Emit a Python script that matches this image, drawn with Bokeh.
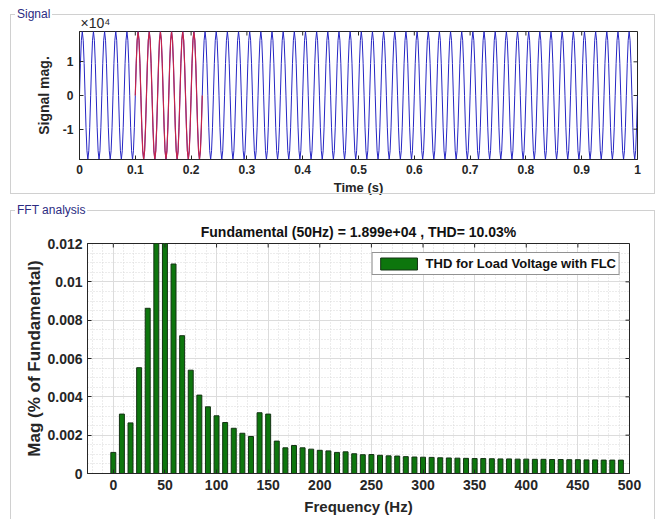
from bokeh.plotting import figure
from bokeh.models import (Range1d, FixedTicker, SingleIntervalTicker, CustomJSTickFormatter,
                          Title, Div)
from bokeh.layouts import column
from bokeh.embed import file_html
from bokeh.resources import INLINE
import numpy as np

# ---------------- data ----------------
# one period of the measured signal (x 1e4), read from the picture (peak ~1.9e4)
signal_cycle = [0.0, 0.95, 1.64, 1.90, 1.64, 0.95, 0.0, -0.95, -1.64, -1.90, -1.64, -0.95]
signal_scale = 1e4
signal_period_s = 0.02
signal_duration_s = 1.0
fft_window = [0.10, 0.22]  # highlighted (red) window in seconds

time_ticks = [0, 0.1, 0.2, 0.3, 0.4, 0.5, 0.6, 0.7, 0.8, 0.9, 1.0]
signal_ticks = [-1e4, 0, 1e4]
freq_ticks = [0, 50, 100, 150, 200, 250, 300, 350, 400, 450, 500]
mag_ticks = [0, 0.002, 0.004, 0.006, 0.008, 0.01, 0.012]

# FFT bins (Hz), spacing 1/0.12 s
bin_step_hz = 50 / 6
fft_mag = [0.00110, 0.00310, 0.00264, 0.00552, 0.00862, 0.01350, 0.01320, 0.01093,
           0.00719, 0.00539, 0.00409, 0.00348, 0.00301, 0.00266, 0.00236, 0.00210,
           0.00193, 0.00317, 0.00310, 0.00169, 0.00134, 0.00146, 0.00134, 0.00127,
           0.00121, 0.00118, 0.00110, 0.00113, 0.00103, 0.00098, 0.00099, 0.00095,
           0.00092, 0.00091, 0.00088, 0.00086, 0.00085, 0.00084, 0.00082, 0.00081,
           0.00080, 0.00079, 0.00078, 0.00078, 0.00077, 0.00076, 0.00076, 0.00075,
           0.00075, 0.00074, 0.00074, 0.00073, 0.00073, 0.00072, 0.00072, 0.00071,
           0.00071, 0.00070, 0.00070, 0.00070]
fft_freq = [i * bin_step_hz for i in range(len(fft_mag))]

fft_title = "Fundamental (50Hz) = 1.899e+04 , THD= 10.03%"
legend_text = "THD for Load Voltage with FLC"
panel_names = ["Signal", "FFT analysis"]

# ---------------- build signal from the periodic samples ----------------
n_per = len(signal_cycle)
n_cycles = int(round(signal_duration_s / signal_period_s))
sig_y = np.array(signal_cycle * n_cycles + [signal_cycle[0]]) * signal_scale
sig_t = np.arange(len(sig_y)) * (signal_period_s / n_per)
mask = (sig_t >= fft_window[0] - 1e-9) & (sig_t <= fft_window[1] + 1e-9)

FONT = "Liberation Sans"
AX = "#262626"
PANEL = "#d0d0d0"
fmt = CustomJSTickFormatter(code="return Number(tick.toPrecision(6)).toString();")


def style_axis(ax, size, lsize):
    ax.axis_line_color = AX
    ax.major_tick_line_color = AX
    ax.major_tick_in = 4
    ax.major_tick_out = 0
    ax.minor_tick_in = 0
    ax.minor_tick_out = 0
    ax.major_label_text_font = FONT
    ax.major_label_text_font_style = "bold"
    ax.major_label_text_font_size = size
    ax.major_label_text_color = AX
    ax.axis_label_text_font = FONT
    ax.axis_label_text_font_style = "bold"
    ax.axis_label_text_font_size = lsize
    ax.axis_label_text_color = AX


def panel_div(name, left, top, width, height):
    html = (
        '<fieldset style="margin:0;padding:0;border:1px solid %s;box-sizing:border-box;'
        'width:%dpx;height:%dpx;">'
        '<legend style="margin-left:4px;padding:0 2px;font-family:\'Liberation Sans\',sans-serif;'
        'font-size:12px;line-height:14px;color:#2b2b82;">%s</legend></fieldset>'
        % (PANEL, width, height, name)
    )
    return Div(text=html, width=width, height=height,
               styles={"position": "absolute", "left": "%dpx" % left, "top": "%dpx" % top,
                       "z-index": "10", "pointer-events": "none", "margin": "0"})


# ---------------- top figure: signal ----------------
p1 = figure(width=665, height=200, output_backend="svg", toolbar_location=None,
            x_range=Range1d(0, 1), y_range=Range1d(-1.9e4, 1.9e4),
            min_border_left=79, min_border_right=28, min_border_top=31,
            min_border_bottom=41)
p1.background_fill_color = "white"
p1.border_fill_color = "white"
p1.outline_line_color = AX
p1.grid.visible = False
p1.line(sig_t, sig_y, line_color="#2626c4", line_width=1)
p1.line(sig_t[mask], sig_y[mask], line_color="#c4244c", line_width=1.2)
# inward ticks on the top and right edges (box on)
p1.ray(x=time_ticks, y=[1.9e4] * len(time_ticks), length=4, length_units="screen",
       angle=-np.pi / 2, line_color=AX, line_width=1)
p1.ray(x=[1.0] * len(signal_ticks), y=signal_ticks, length=4, length_units="screen",
       angle=np.pi, line_color=AX, line_width=1)

p1.xaxis.ticker = FixedTicker(ticks=time_ticks)
p1.xaxis.formatter = fmt
p1.yaxis.ticker = FixedTicker(ticks=signal_ticks)
p1.yaxis.major_label_overrides = {-10000: "-1", 0: "0", 10000: "1"}
p1.xaxis.axis_label = "Time (s)"
p1.yaxis.axis_label = "Signal mag."
style_axis(p1.xaxis[0], "12px", "13px")
style_axis(p1.yaxis[0], "12px", "14px")
p1.xaxis.major_label_standoff = 5
p1.xaxis.axis_label_standoff = 3
p1.yaxis.major_label_standoff = 6
p1.yaxis.axis_label_standoff = 8
p1.add_layout(Title(text="\u00d710\u2074", align="left", offset=1, standoff=2,
                    text_font=FONT, text_font_size="14px", text_font_style="normal",
                    text_color=AX), "above")

# ---------------- bottom figure: FFT ----------------
p2 = figure(width=665, height=319, output_backend="svg", toolbar_location=None,
            x_range=Range1d(-25, 500), y_range=Range1d(0, 0.012),
            min_border_left=87, min_border_right=36, min_border_top=43,
            min_border_bottom=46)
p2.background_fill_color = "white"
p2.border_fill_color = "white"
p2.outline_line_color = AX
p2.vbar(x=fft_freq, top=fft_mag, width=4.8, bottom=0, fill_color="#0d760d",
        line_color="#143314", line_width=1, legend_label=legend_text)
p2.ray(x=freq_ticks, y=[0.012] * len(freq_ticks), length=4, length_units="screen",
       angle=-np.pi / 2, line_color=AX, line_width=1)
p2.ray(x=[500] * len(mag_ticks), y=mag_ticks, length=4, length_units="screen",
       angle=np.pi, line_color=AX, line_width=1)

xt = SingleIntervalTicker(interval=50, num_minor_ticks=5)
yt = SingleIntervalTicker(interval=0.002, num_minor_ticks=4)
p2.xaxis.ticker = xt
p2.yaxis.ticker = yt
p2.xaxis.formatter = fmt
p2.yaxis.formatter = fmt
p2.xaxis.axis_label = "Frequency (Hz)"
p2.yaxis.axis_label = "Mag (% of Fundamental)"
style_axis(p2.xaxis[0], "14px", "15px")
style_axis(p2.yaxis[0], "14px", "17px")
p2.xaxis.major_label_standoff = 6
p2.xaxis.axis_label_standoff = 5
p2.yaxis.major_label_standoff = 5
p2.yaxis.axis_label_standoff = 0
p2.xgrid.ticker = xt
p2.ygrid.ticker = yt
p2.grid.grid_line_color = "#dcdcdc"
p2.grid.grid_line_width = 1
p2.grid.minor_grid_line_color = "#d8d8d8"
p2.grid.minor_grid_line_dash = "1 2"
p2.add_layout(Title(text=fft_title, align="center", standoff=8, text_font=FONT,
                    text_font_size="14px", text_font_style="bold",
                    text_color="#111111"), "above")

lg = p2.legend[0]
lg.location = "top_right"
lg.margin = 9
lg.padding = 3
lg.spacing = 0
lg.glyph_width = 46
lg.glyph_height = 15
lg.label_standoff = 4
lg.label_text_font = FONT
lg.label_text_font_style = "bold"
lg.label_text_font_size = "13px"
lg.label_text_color = "#111111"
lg.border_line_color = AX
lg.border_line_width = 1
lg.background_fill_color = "white"
lg.background_fill_alpha = 1

for p in (p1, p2):
    if "frame_align" in p.properties():
        p.frame_align = False

d1 = panel_div(panel_names[0], 10, 7, 645, 187)
d2 = panel_div(panel_names[1], 10, 203, 645, 330)

layout = column(p1, p2, d1, d2, spacing=0)
open("out.html", "w").write(file_html(layout, INLINE))
